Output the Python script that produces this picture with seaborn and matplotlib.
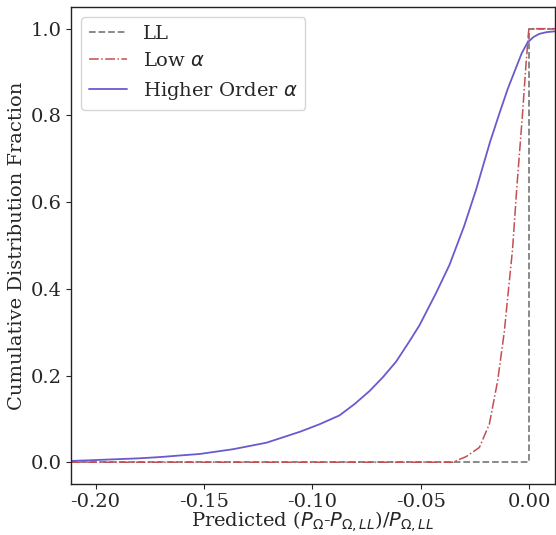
import numpy as np
import pandas as pd
import matplotlib
matplotlib.use("Agg")
import matplotlib.pyplot as plt
import seaborn as sns

# LL: step at zero
ll_x = [-0.2113, 0.0, 0.0, 0.012]
ll_y = [0.0, 0.0, 1.0, 1.0]

# Low alpha CDF
low_x = [-0.2113, -0.0353, -0.0291, -0.0230, -0.0184, -0.0146, -0.0115, -0.0100,
         -0.0077, -0.0058, -0.0031, -0.0015, -0.0003, 0.0, 0.012]
low_y = [0.0, 0.0, 0.013, 0.034, 0.088, 0.187, 0.301, 0.377,
         0.491, 0.629, 0.804, 0.918, 0.994, 1.0, 1.0]

# Higher order alpha CDF
ho_x = [-0.2113, -0.20, -0.19, -0.18, -0.17, -0.16, -0.152, -0.1366, -0.1212,
        -0.1059, -0.097, -0.0875, -0.0806, -0.0737, -0.0675, -0.0614, -0.0555,
        -0.0506, -0.043, -0.0368, -0.030, -0.0245, -0.018, -0.0138, -0.010,
        -0.0061, -0.0035, -0.0008, 0.002, 0.0046, 0.008, 0.012]
ho_y = [0.003, 0.005, 0.007, 0.009, 0.012, 0.016, 0.019, 0.030, 0.045,
        0.070, 0.087, 0.108, 0.134, 0.164, 0.196, 0.232, 0.277,
        0.316, 0.390, 0.455, 0.545, 0.629, 0.740, 0.804, 0.860,
        0.910, 0.943, 0.968, 0.981, 0.988, 0.992, 0.994]

sns.set_style("ticks")
plt.rcParams['font.family'] = ['DejaVu Serif']
plt.rcParams['mathtext.fontset'] = 'dejavusans'

fig = plt.figure(figsize=(5.56, 5.35), dpi=100)
ax = fig.add_axes([0.1277, 0.0955, 0.871, 0.8914])

sns.lineplot(x=ll_x, y=ll_y, ax=ax, color="gray", linestyle="--", label="LL",
             sort=False, estimator=None, linewidth=1.3)
sns.lineplot(x=low_x, y=low_y, ax=ax, color="#c44e52", linestyle="-.", label=r"Low $\alpha$",
             sort=False, estimator=None, linewidth=1.1)
sns.lineplot(x=ho_x, y=ho_y, ax=ax, color="#6a5acd", linestyle="-", label=r"Higher Order $\alpha$",
             sort=False, estimator=None, linewidth=1.3)

ax.set_xlim(-0.2113, 0.012)
ax.set_ylim(-0.05, 1.05)
ax.set_xticks([-0.20, -0.15, -0.10, -0.05, 0.00])
ax.set_xticklabels(["-0.20", "-0.15", "-0.10", "-0.05", "0.00"])
ax.set_yticks([0.0, 0.2, 0.4, 0.6, 0.8, 1.0])
ax.tick_params(labelsize=14, pad=3.5, length=3.5)
ax.tick_params(axis="x", pad=3)
ax.set_xlabel(r"Predicted ($P_{\Omega}$-$P_{\Omega,LL}$)/$P_{\Omega,LL}$", fontsize=14, labelpad=-1)
ax.set_ylabel("Cumulative Distribution Fraction", fontsize=14, labelpad=3)
for s in ax.spines.values():
    s.set_color("#222222")
    s.set_linewidth(1.0)
ax.legend(loc="upper left", fontsize=14, frameon=True)

fig.savefig("out.png", dpi=100)
